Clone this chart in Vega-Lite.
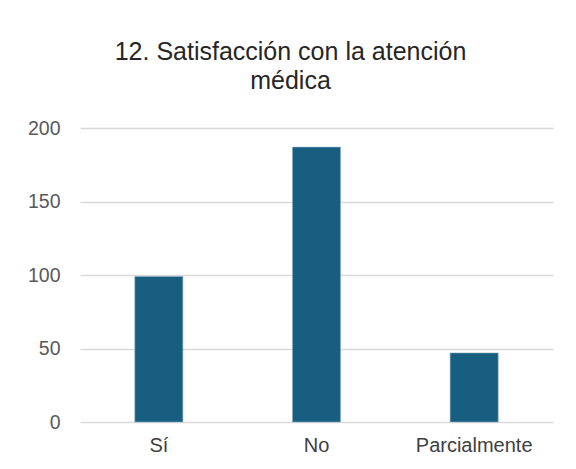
{
  "$schema": "https://vega.github.io/schema/vega-lite/v6.json",
  "autosize": {"type": "none"},
  "padding": {"left": 80, "top": 128, "right": 23, "bottom": 47},
  "width": 473,
  "height": 294,
  "background": "#ffffff",
  "title": {
    "text": ["12. Satisfacción con la atención", "médica"],
    "font": "Liberation Sans",
    "fontSize": 25,
    "fontWeight": "normal",
    "color": "#262626",
    "anchor": "middle",
    "dx": -26,
    "offset": 24,
    "lineHeight": 29
  },
  "data": {
    "values": [
      {"respuesta": "Sí", "cantidad": 99},
      {"respuesta": "No", "cantidad": 187},
      {"respuesta": "Parcialmente", "cantidad": 47}
    ]
  },
  "mark": {"type": "bar", "color": "#175e81", "stroke": "#8fb0c4", "strokeWidth": 0.6},
  "encoding": {
    "x": {
      "field": "respuesta",
      "type": "nominal",
      "sort": null,
      "scale": {"paddingInner": 0.695, "paddingOuter": 0.3475},
      "axis": {
        "title": null,
        "labelAngle": 0,
        "domain": false,
        "ticks": false,
        "labelFont": "Liberation Sans",
        "labelFontSize": 20,
        "labelColor": "#404040",
        "labelPadding": 13
      }
    },
    "y": {
      "field": "cantidad",
      "type": "quantitative",
      "scale": {"domain": [0, 200], "nice": false},
      "axis": {
        "title": null,
        "values": [0, 50, 100, 150, 200],
        "domain": false,
        "ticks": false,
        "grid": true,
        "gridColor": "#d9d9d9",
        "gridWidth": 1.5,
        "labelFont": "Liberation Sans",
        "labelFontSize": 19.5,
        "labelColor": "#595959",
        "labelPadding": 20
      }
    }
  },
  "config": {"view": {"stroke": null}}
}
